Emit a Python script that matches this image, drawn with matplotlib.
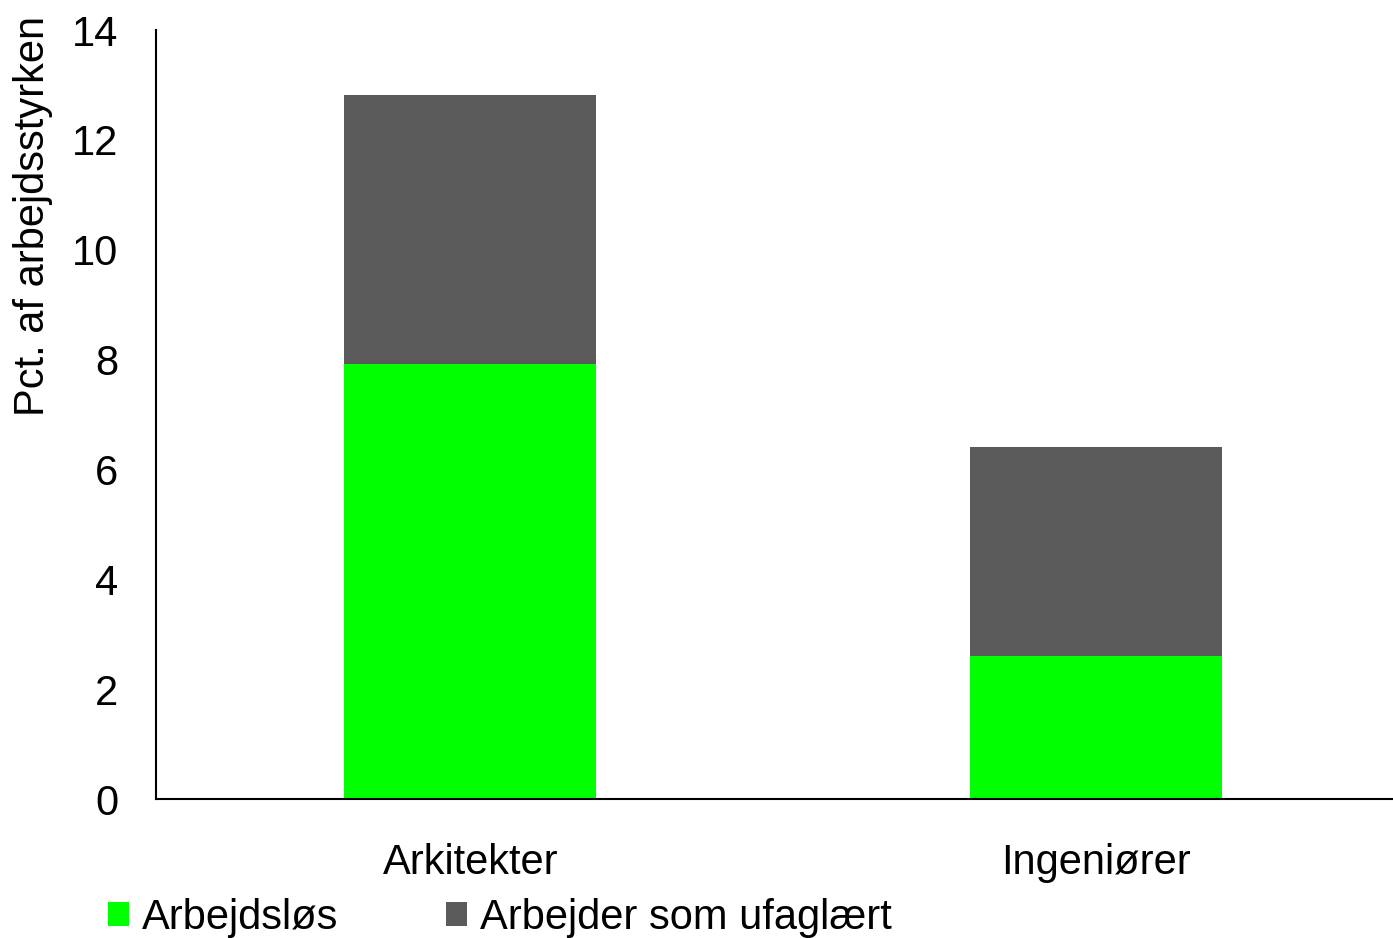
import matplotlib
matplotlib.use("Agg")
import matplotlib.pyplot as plt
from matplotlib.patches import Patch

categories = ["Arkitekter", "Ingeniører"]
arbejdslos = [7.92, 2.60]
ufaglaert = [4.90, 3.81]
series_names = ["Arbejdsløs", "Arbejder som ufaglært"]
yticks = [0, 2, 4, 6, 8, 10, 12, 14]

plt.rcParams['font.family'] = ['Liberation Sans', 'DejaVu Sans']
FS = 30

fig = plt.figure(figsize=(13.93, 9.38), dpi=100)
ax = fig.add_axes([156/1393, (938-799)/938, (1393-156)/1393, (799-30)/938])

x = list(range(len(categories)))
green = '#00FF00'
gray = '#5A5A5A'
ax.bar(x, arbejdslos, width=0.402, color=green, label=series_names[0])
ax.bar(x, ufaglaert, width=0.402, bottom=arbejdslos, color=gray, label=series_names[1])

ax.set_xlim(-0.502, 1.474)
ax.set_ylim(0, 14)
ax.set_yticks(yticks)
ax.set_yticklabels([str(t) for t in yticks])
ax.set_xticks(x)
ax.set_xticklabels(categories)
ax.tick_params(axis='y', length=0, pad=27, labelsize=FS)
ax.tick_params(axis='x', length=0, pad=32, labelsize=FS)
for s in ['top', 'right']:
    ax.spines[s].set_visible(False)
for s in ['left', 'bottom']:
    ax.spines[s].set_linewidth(1.5)
    ax.spines[s].set_color('black')

fig.text(33/1393, 1 - 216/938, "Pct. af arbejdsstyrken", rotation=90,
         ha='center', va='center', fontsize=FS)

handles = [Patch(facecolor=green, edgecolor='none'), Patch(facecolor=gray, edgecolor='none')]
leg = fig.legend(handles, series_names, loc='lower left', bbox_to_anchor=(104/1393, -4/938),
                 ncol=2, frameon=False, fontsize=FS, handlelength=0.5, handleheight=0.5,
                 handletextpad=0.3, columnspacing=2.6, borderaxespad=0, borderpad=0.1)

fig.savefig("out.png", dpi=100)
